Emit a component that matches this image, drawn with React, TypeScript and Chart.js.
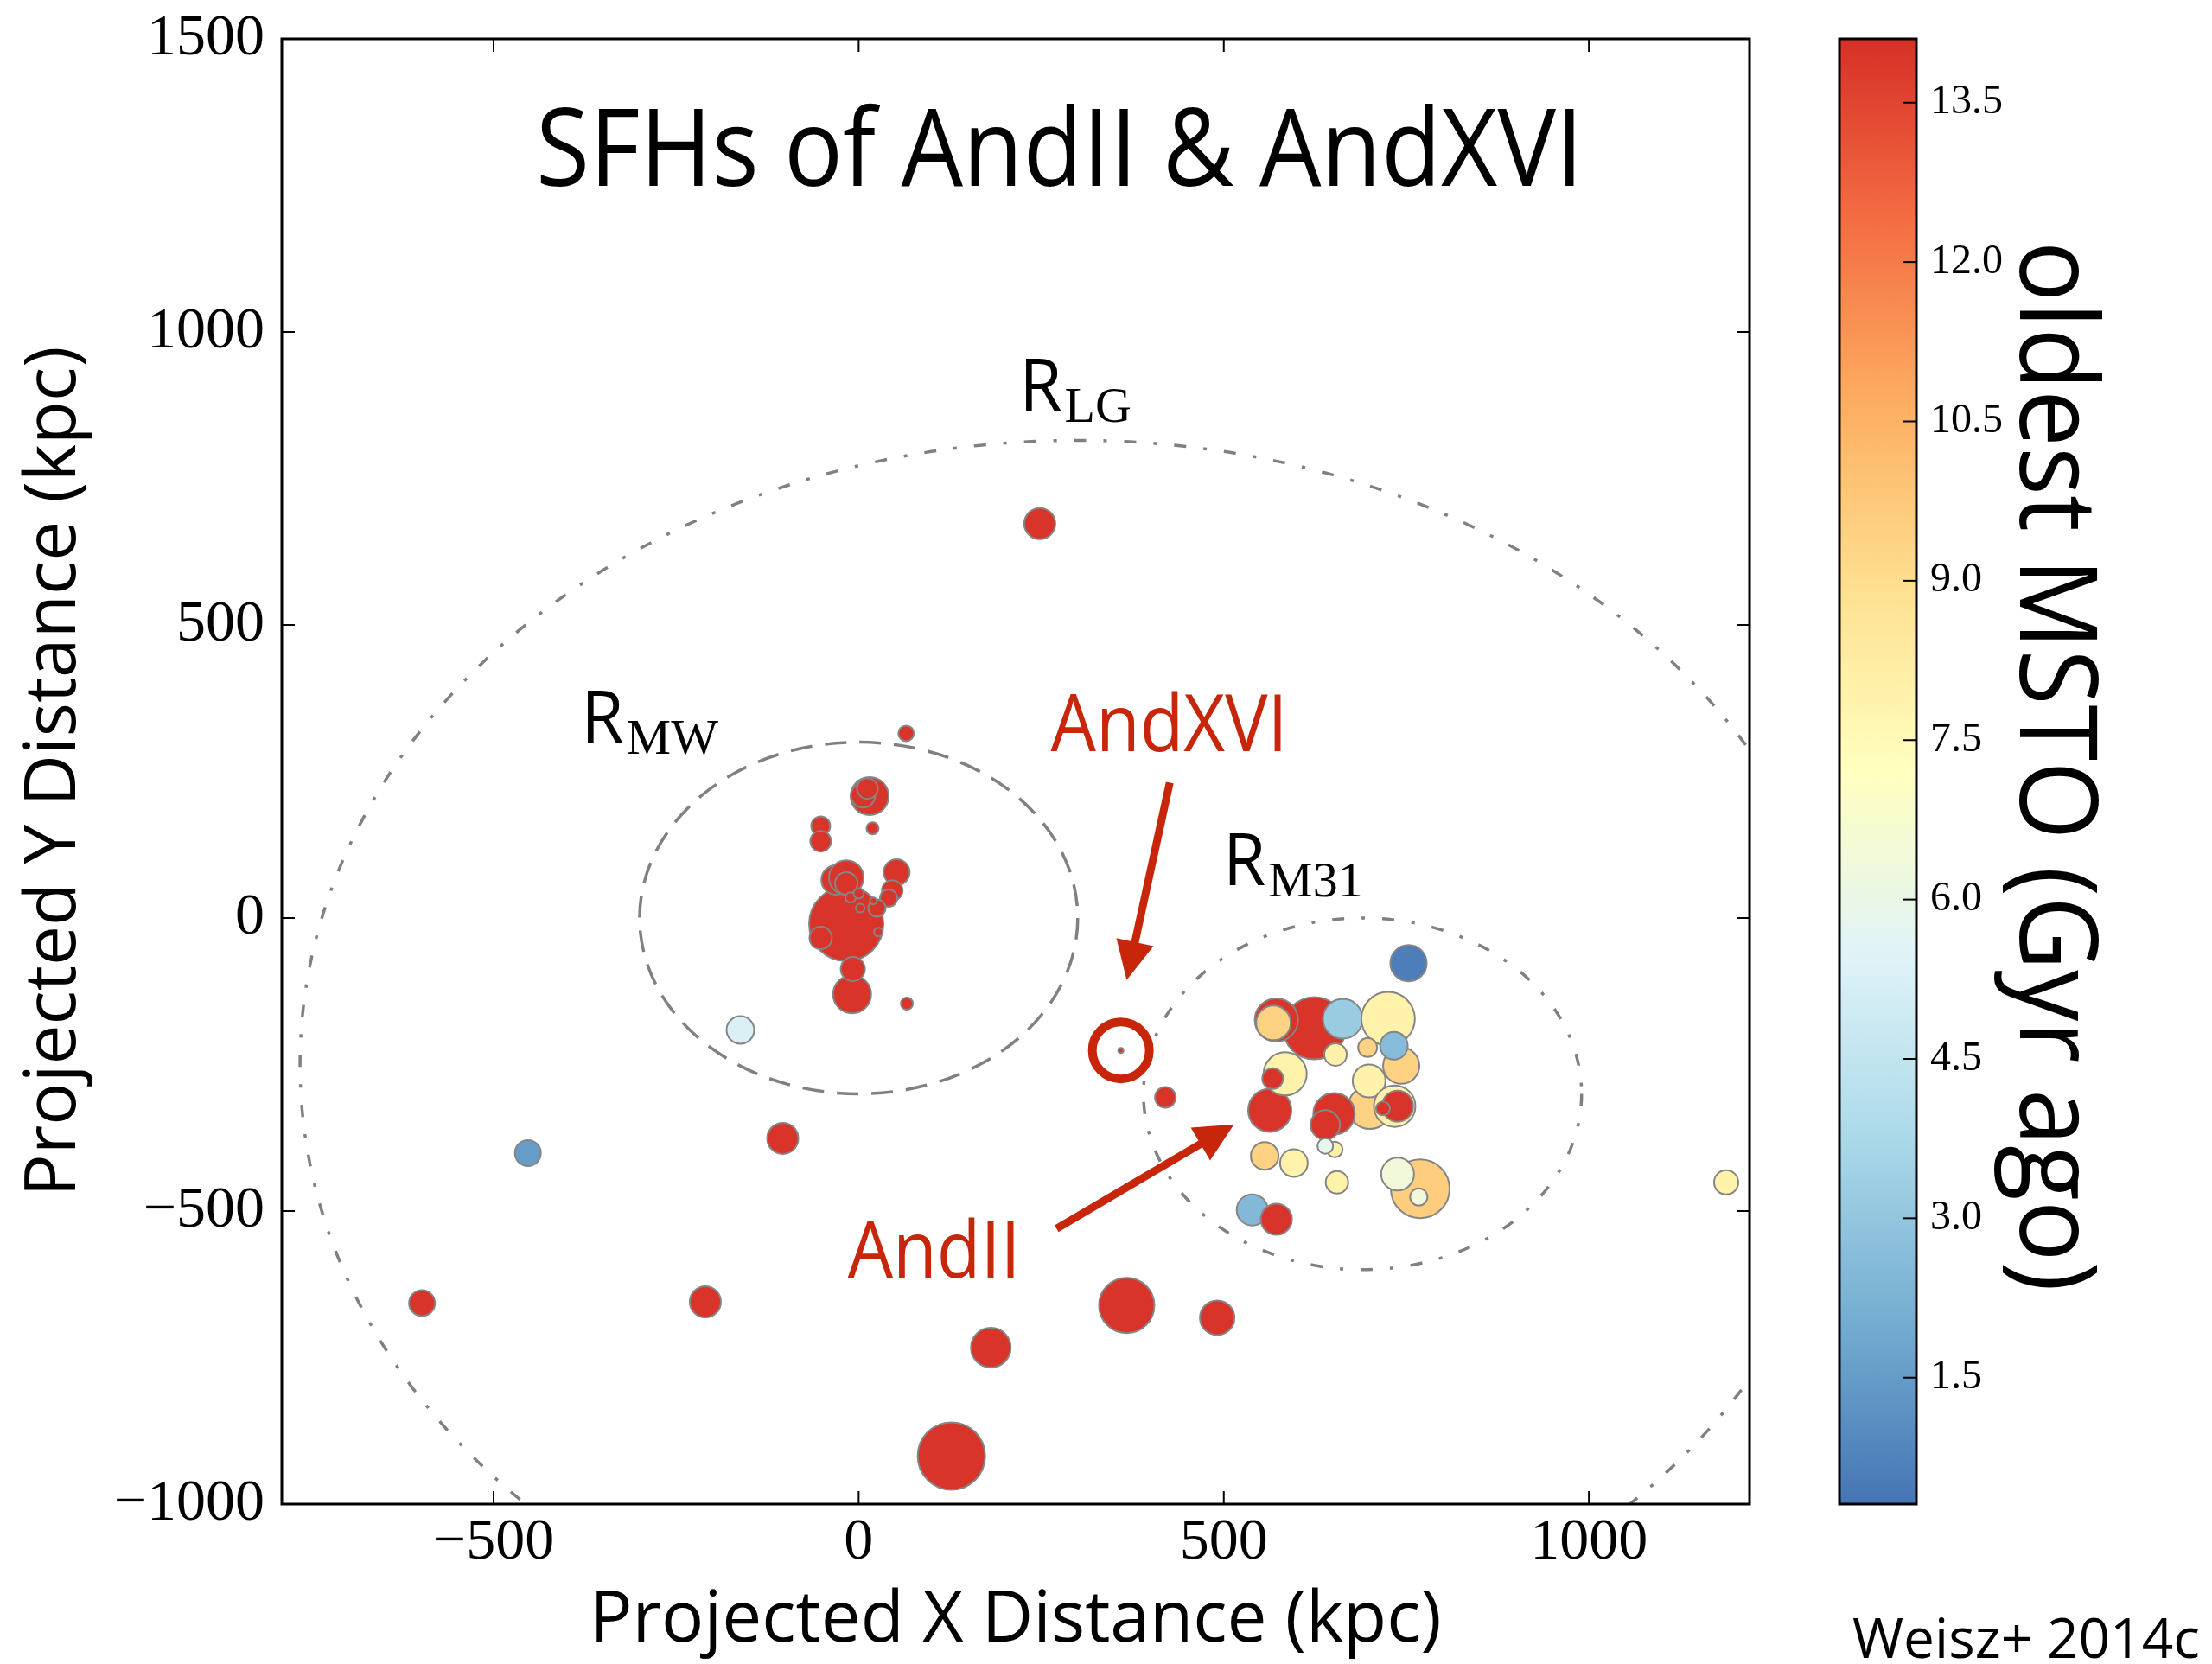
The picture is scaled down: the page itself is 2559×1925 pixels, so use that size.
import React, { useEffect, useRef } from 'react';
import { Chart, registerables } from 'chart.js';

Chart.register(...registerables);

// ---------- data ----------
// projected X (kpc), projected Y (kpc), marker radius, oldest MSTO age (Gyr ago)
const galaxyX = [
  248, 65, -453, -104, -598, -210, 181, 367, 491, 127, 420, 359, 1188, 66, -162,
  15, 6, 12, 19, -52, -52, -17, -9, -8, -52, -31, -17, -17, 52, 46, 41, 25, 20, 2, -11, 0, 27,
  753, 624, 572, 568, 663, 725, 653, 697, 743, 733, 563, 584, 567, 700, 699, 734, 738, 718,
  651, 639, 652, 639, 556, 596, 655, 769, 738, 767, 539, 572,
];
const galaxyY = [
  673, 315, -401, -376, -657, -655, -733, -661, -682, -918, -306, -226, -451, -146, -191,
  208, 209, 221, 153, 157, 131, -10, -130, -87, -34, 65, 69, 59, 78, 47, 34, 17, 29, 17, 35, 42, -24,
  -77, -188, -174, -179, -172, -172, -233, -221, -252, -218, -328, -266, -274, -323, -278, -321, -321, -325,
  -334, -353, -395, -389, -406, -418, -451, -462, -437, -476, -498, -514,
];
const markerSize = [
  18, 9, 15, 18, 15, 18, 23, 32, 20, 39, 12, 3, 14, 7, 16,
  22, 14, 12, 7, 11, 12, 43, 22, 14, 13, 17, 20, 13, 15, 12, 10, 10, 4, 5, 6, 6, 5,
  21, 36, 25, 20, 23, 31, 13, 11, 21, 16, 25, 25, 12, 25, 19, 24, 18, 8,
  24, 17, 9, 9, 16, 16, 13, 34, 19, 10, 18, 18,
];
const oldestMSTO = [
  14, 14, 1.5, 14, 14, 14, 14, 14, 14, 14, 14, 14, 7.9, 14, 5.3,
  14, 14, 14, 14, 14, 14, 14, 14, 14, 14, 14, 14, 14, 14, 14, 14, 14, 14, 14, 14, 14, 14,
  0.6, 14, 14, 9.4, 3.2, 7.9, 8.0, 9.4, 9.4, 2.6, 14, 7.9, 14, 9.4, 7.9, 7.9, 14, 14,
  14, 14, 8.0, 5.8, 9.4, 7.9, 7.9, 9.6, 6.4, 6.4, 2.5, 14,
];

const xTickValues = [-500, 0, 500, 1000];
const yTickValues = [-1000, -500, 0, 500, 1000, 1500];
const colorbarTicks = [1.5, 3.0, 4.5, 6.0, 7.5, 9.0, 10.5, 12.0, 13.5];
const colorbarRange = [0.31, 14.1];
const xRange = [-790, 1220];
const yRange = [-1000, 1500];

// boundary circles (kpc)
const regionNames = ['LG', 'MW', 'M31'];
const regionCenterX = [300, 0, 690];
const regionCenterY = [-250, 0, -300];
const regionRadius = [1065, 300, 300];
const regionLabelX = [220, -380, 499];
const regionLabelY = [866, 299, 56];

// annotations (kpc)
const highlightNames = ['AndXVI', 'AndII'];
const highlightLabelX = [263, -15];
const highlightLabelY = [284, -614];
const arrowStartX = [426, 271];
const arrowStartY = [231, -530];
const arrowTipX = [367, 514];
const arrowTipY = [-106, -352];
const ringX = 359;
const ringY = -226;

const palette = ['#4575b4', '#74add1', '#abd9e9', '#e0f3f8', '#ffffbf', '#fee090', '#fdae61', '#f46d43', '#d73027'];

function hexToRgb(h: string) {
  const n = parseInt(h.slice(1), 16);
  return [(n >> 16) & 255, (n >> 8) & 255, n & 255];
}
function ageColor(v: number) {
  let t = (v - colorbarRange[0]) / (colorbarRange[1] - colorbarRange[0]);
  t = Math.max(0, Math.min(1, t));
  const f = t * (palette.length - 1);
  const i = Math.min(palette.length - 2, Math.floor(f));
  const u = f - i;
  const a = hexToRgb(palette[i]);
  const b = hexToRgb(palette[i + 1]);
  const c = a.map((av, k) => Math.round(av + (b[k] - av) * u));
  return `rgb(${c[0]},${c[1]},${c[2]})`;
}

const SANS = '"Open Sans", "Noto Sans", sans-serif';
const SERIF = '"Liberation Serif", "DejaVu Serif", serif';
const RED = '#c8260a';

function fmtTick(v: number) {
  return v < 0 ? '\u2212' + Math.abs(v) : String(v);
}

function drawText(ctx: CanvasRenderingContext2D, text: string, x: number, y: number, font: string,
  color: string, align: CanvasTextAlign, condense = 1, rotation = 0) {
  ctx.save();
  ctx.translate(x, y);
  if (rotation) ctx.rotate(rotation);
  ctx.scale(condense, 1);
  ctx.font = font;
  ctx.fillStyle = color;
  ctx.textAlign = align;
  ctx.textBaseline = 'alphabetic';
  ctx.fillText(text, 0, 0);
  const w = ctx.measureText(text).width * condense;
  ctx.restore();
  return w;
}

function drawArrow(ctx: CanvasRenderingContext2D, x0: number, y0: number, x1: number, y1: number) {
  const ang = Math.atan2(y1 - y0, x1 - x0);
  const headLen = 45, headW = 44;
  const bx = x1 - headLen * Math.cos(ang);
  const by = y1 - headLen * Math.sin(ang);
  ctx.strokeStyle = RED;
  ctx.fillStyle = RED;
  ctx.lineWidth = 9;
  ctx.lineCap = 'butt';
  ctx.setLineDash([]);
  ctx.beginPath();
  ctx.moveTo(x0, y0);
  ctx.lineTo(bx + 2 * Math.cos(ang), by + 2 * Math.sin(ang));
  ctx.stroke();
  ctx.beginPath();
  ctx.moveTo(x1, y1);
  ctx.lineTo(bx + (headW / 2) * Math.sin(ang), by - (headW / 2) * Math.cos(ang));
  ctx.lineTo(bx - (headW / 2) * Math.sin(ang), by + (headW / 2) * Math.cos(ang));
  ctx.closePath();
  ctx.fill();
}

const overlayPlugin = {
  id: 'overlay',
  beforeDatasetsDraw(chart: any) {
    const { ctx, chartArea: a, scales } = chart;
    const x = scales.x, y = scales.y;
    ctx.save();
    ctx.beginPath();
    ctx.rect(a.left, a.top, a.right - a.left, a.bottom - a.top);
    ctx.clip();
    ctx.strokeStyle = '#808080';
    ctx.lineWidth = 3.5;
    regionNames.forEach((_, i) => {
      const px = x.getPixelForValue(regionCenterX[i]);
      const py = y.getPixelForValue(regionCenterY[i]);
      const rx = Math.abs(x.getPixelForValue(regionCenterX[i] + regionRadius[i]) - px);
      const ry = Math.abs(y.getPixelForValue(regionCenterY[i] + regionRadius[i]) - py);
      ctx.setLineDash(i === 1 ? [25, 15] : [14, 20, 4, 20]);
      ctx.beginPath();
      ctx.ellipse(px, py, rx, ry, 0, 0, Math.PI * 2);
      ctx.stroke();
    });
    ctx.restore();
  },
  afterDraw(chart: any) {
    const { ctx, chartArea: a, scales } = chart;
    const x = scales.x, y = scales.y, c = scales.c;
    ctx.save();

    // frame
    ctx.setLineDash([]);
    ctx.strokeStyle = '#000';
    ctx.lineWidth = 3;
    ctx.strokeRect(a.left, a.top, a.right - a.left, a.bottom - a.top);
    // inward ticks on all sides
    ctx.lineWidth = 2;
    const tl = 15;
    xTickValues.forEach((v) => {
      const px = x.getPixelForValue(v);
      ctx.beginPath();
      ctx.moveTo(px, a.bottom); ctx.lineTo(px, a.bottom - tl);
      ctx.moveTo(px, a.top); ctx.lineTo(px, a.top + tl);
      ctx.stroke();
    });
    yTickValues.forEach((v) => {
      const py = y.getPixelForValue(v);
      ctx.beginPath();
      ctx.moveTo(a.left, py); ctx.lineTo(a.left + tl, py);
      ctx.moveTo(a.right, py); ctx.lineTo(a.right - tl, py);
      ctx.stroke();
    });

    // title
    drawText(ctx, 'SFHs of AndII & AndXVI', x.getPixelForValue(275), y.getPixelForValue(1249),
      `125px ${SANS}`, '#000', 'center', 0.905);

    // region labels R_xx
    regionNames.forEach((nm, i) => {
      const px = x.getPixelForValue(regionLabelX[i]);
      const py = y.getPixelForValue(regionLabelY[i]);
      const w = drawText(ctx, 'R', px, py, `84px ${SANS}`, '#000', 'left', 0.95);
      drawText(ctx, nm, px + w + 3, py + 13, `58px ${SERIF}`, '#000', 'left');
    });

    // highlighted galaxies
    highlightNames.forEach((nm, i) => {
      drawText(ctx, nm, x.getPixelForValue(highlightLabelX[i]), y.getPixelForValue(highlightLabelY[i]),
        `92px ${SANS}`, RED, 'left', 0.9);
      drawArrow(ctx, x.getPixelForValue(arrowStartX[i]), y.getPixelForValue(arrowStartY[i]),
        x.getPixelForValue(arrowTipX[i]), y.getPixelForValue(arrowTipY[i]));
    });
    ctx.strokeStyle = RED;
    ctx.lineWidth = 10;
    ctx.beginPath();
    ctx.arc(x.getPixelForValue(ringX), y.getPixelForValue(ringY), 33, 0, Math.PI * 2);
    ctx.stroke();

    // colorbar
    const cbL = a.right + 104, cbW = 89;
    const cbTop = c.getPixelForValue(colorbarRange[1]);
    const cbBot = c.getPixelForValue(colorbarRange[0]);
    const grad = ctx.createLinearGradient(0, cbBot, 0, cbTop);
    palette.forEach((col, i) => grad.addColorStop(i / (palette.length - 1), col));
    ctx.fillStyle = grad;
    ctx.fillRect(cbL, cbTop, cbW, cbBot - cbTop);
    ctx.strokeStyle = '#000';
    ctx.lineWidth = 3;
    ctx.strokeRect(cbL, cbTop, cbW, cbBot - cbTop);
    ctx.lineWidth = 2;
    colorbarTicks.forEach((v) => {
      const py = c.getPixelForValue(v);
      ctx.beginPath();
      ctx.moveTo(cbL + cbW, py); ctx.lineTo(cbL + cbW - 15, py);
      ctx.stroke();
      ctx.save();
      ctx.font = `48px ${SERIF}`;
      ctx.fillStyle = '#000';
      ctx.textAlign = 'left';
      ctx.textBaseline = 'middle';
      ctx.fillText(v.toFixed(1), cbL + cbW + 16, py);
      ctx.restore();
    });
    drawText(ctx, 'oldest MSTO (Gyr ago)', a.right + 313, (cbTop + cbBot) / 2 - 6, `125px ${SANS}`, '#000',
      'center', 0.94, Math.PI / 2);

    // credit
    drawText(ctx, 'Weisz+ 2014c', a.right + 119, 1918, `64px ${SANS}`, '#000', 'left');
    ctx.restore();
  },
};

function noEdgePadding(s: any) {
  s.paddingTop = 0;
  s.paddingBottom = 0;
  s.paddingLeft = 0;
  s.paddingRight = 0;
}

export default function App() {
  const ref = useRef<HTMLCanvasElement | null>(null);
  useEffect(() => {
    document.body.style.margin = '0';
    const canvas = ref.current!;
    const points = galaxyX.map((gx, i) => ({ x: gx, y: galaxyY[i], r: markerSize[i] }));
    const chart = new Chart(canvas, {
      type: 'bubble',
      data: {
        datasets: [{
          data: points,
          backgroundColor: oldestMSTO.map(ageColor),
          borderColor: '#858585',
          borderWidth: 2,
          hoverRadius: 0,
        } as any],
      },
      options: {
        responsive: false,
        animation: false,
        devicePixelRatio: 1,
        events: [],
        layout: { padding: { top: 37, right: 535, left: 0, bottom: 0 } },
        plugins: { legend: { display: false }, tooltip: { enabled: false } },
        scales: {
          x: {
            type: 'linear',
            min: xRange[0],
            max: xRange[1],
            grid: { display: false },
            border: { display: false },
            afterBuildTicks: (s: any) => { s.ticks = xTickValues.map((v) => ({ value: v })); },
            afterFit: (s: any) => { s.height = 185; noEdgePadding(s); },
            ticks: {
              color: '#000',
              padding: -4,
              maxRotation: 0,
              font: { family: SERIF, size: 68 },
              callback: (v: any) => fmtTick(Number(v)),
            },
            title: {
              display: true,
              text: 'Projected X Distance (kpc)',
              color: '#000',
              font: { family: SANS, size: 82 },
              padding: { top: 0, bottom: 0 },
            },
          },
          y: {
            type: 'linear',
            min: yRange[0],
            max: yRange[1],
            grid: { display: false },
            border: { display: false },
            afterBuildTicks: (s: any) => { s.ticks = yTickValues.map((v) => ({ value: v })); },
            afterFit: (s: any) => { s.width = 326; noEdgePadding(s); },
            ticks: {
              color: '#000',
              padding: 12,
              font: { family: SERIF, size: 68 },
              callback: (v: any) => fmtTick(Number(v)),
            },
            title: {
              display: true,
              text: 'Projected Y Distance (kpc)',
              color: '#000',
              font: { family: SANS, size: 82 },
              padding: { top: 14, bottom: 0 },
            },
          },
          c: {
            type: 'linear',
            axis: 'y',
            position: 'right',
            display: false,
            min: colorbarRange[0],
            max: colorbarRange[1],
          },
        },
      } as any,
      plugins: [overlayPlugin],
    });
    return () => chart.destroy();
  }, []);
  return <canvas ref={ref} width={2559} height={1925} style={{ display: 'block' }} />;
}
